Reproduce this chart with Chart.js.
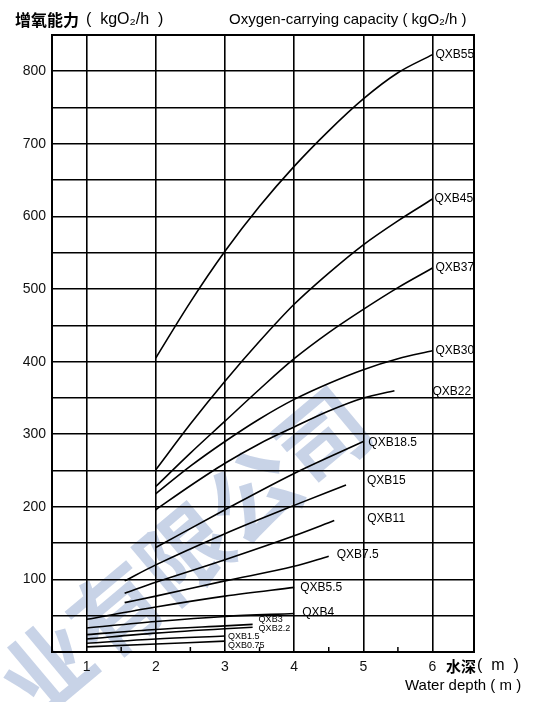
<!DOCTYPE html>
<html><head><meta charset="utf-8">
<script src="https://cdn.jsdelivr.net/npm/chart.js@4.4.0/dist/chart.umd.min.js"></script>
<style>html,body{margin:0;padding:0;background:#fff;}#wrap{position:relative;width:533px;height:702px;}</style>
</head><body><div id="wrap"><canvas id="c" width="533" height="702"></canvas></div>
<script>
// ---- data (water depth m, oxygen capacity kgO2/h) ----
const seriesNames = ['QXB55','QXB45','QXB37','QXB30','QXB22','QXB18.5','QXB15','QXB11','QXB7.5','QXB5.5','QXB4','QXB3','QXB2.2','QXB1.5','QXB0.75'];
const depth55 = [2, 2.5, 3, 3.5, 4, 4.5, 5, 5.5, 6];
const cap55   = [405, 482, 552, 614, 669, 718, 762, 798, 823];
const depth45 = [2, 2.5, 3, 3.5, 4, 4.5, 5, 5.5, 6];
const cap45   = [251, 314, 373, 428, 479, 522, 561, 594, 624];
const depth37 = [2, 2.5, 3, 3.5, 4, 4.5, 5, 5.5, 6];
const cap37   = [228, 274, 318, 362, 404, 440, 472, 502, 529];
const depth30 = [2, 2.5, 3, 3.5, 4, 4.5, 5, 5.5, 6];
const cap30   = [218, 256, 290, 321, 348, 370, 389, 404, 415];
const depth22 = [2, 2.5, 3, 3.5, 4, 4.5, 5, 5.45];
const cap22   = [196, 229, 260, 287, 310, 332, 350, 360];
const depth18 = [2, 3, 4, 5];
const cap18   = [144, 196, 246, 290];
const depth15 = [1.55, 2, 3, 4, 4.75];
const cap15   = [98, 120, 163, 202, 230];
const depth11 = [1.55, 2, 3, 4, 4.58];
const cap11   = [81, 96, 127, 160, 181];
const depth7  = [1.55, 2, 3, 4, 4.5];
const cap7    = [68, 77, 98, 118, 132];
const depth5  = [1, 2, 3, 4];
const cap5    = [45, 62, 77, 89];
const depth4  = [1, 2, 3, 4];
const cap4    = [33, 42, 49, 53];
const depth3  = [1, 2, 3, 3.4];
const cap3    = [24, 31, 36, 38];
const depth2  = [1, 2, 3, 3.4];
const cap2    = [18, 26, 32, 34];
const depth1  = [1, 2, 3];
const cap1    = [12, 18, 22];
const depth0  = [1, 2, 3];
const cap0    = [7, 11, 15];
const xTickValues = [1, 2, 3, 4, 5, 6];
const xMinorTicks = [1.5, 2.5, 3.5, 4.5, 5.5];
const yTickValues = [0,50,100,150,200,250,300,350,400,450,500,550,600,650,700,750,800,850];

const seriesDepth = [depth55,depth45,depth37,depth30,depth22,depth18,depth15,depth11,depth7,depth5,depth4,depth3,depth2,depth1,depth0];
const seriesCap   = [cap55,cap45,cap37,cap30,cap22,cap18,cap15,cap11,cap7,cap5,cap4,cap3,cap2,cap1,cap0];

// label styling: pixel offsets from each curve's end point, font size
const labelStyle = [
  [3,0,12],[2,0,12],[3,0,12],[3,0,12],[38,1,12],[5,1,12],[21,-4,12],[33,-2,12],
  [8,-1,12],[6,0,12],[8,-1,12],[6,-5,9],[6,1,9],[3,0,9],[3,4,9]
];

const datasets = seriesNames.map((n,i)=>({
  label:n,
  data: seriesDepth[i].map((d,j)=>({x:d,y:seriesCap[i][j]})),
  borderColor:'#000', borderWidth:1.6, pointRadius:0, fill:false,
  cubicInterpolationMode:'monotone'
}));

const FONT = '"Liberation Sans", Arial, "Noto Sans CJK SC", sans-serif';

const decor = {
  id:'decor',
  beforeDraw(chart){
    const ctx = chart.ctx;
    ctx.save();
    ctx.fillStyle='#fff'; ctx.fillRect(0,0,chart.width,chart.height);
    // watermark
    ctx.translate(12,697);
    ctx.rotate(-40*Math.PI/180);
    ctx.fillStyle='rgba(110,140,192,0.38)';
    ctx.font='bold 90px "Noto Sans CJK SC"';
    ctx.textBaseline='middle'; ctx.textAlign='left';
    ctx.fillText('业有限公司',0,0);
    ctx.restore();
  },
  afterDraw(chart){
    const ctx = chart.ctx, a = chart.chartArea;
    const xs = chart.scales.x, ys = chart.scales.y;
    ctx.save();
    ctx.strokeStyle='#000'; ctx.lineWidth=2;
    ctx.strokeRect(a.left,a.top,a.right-a.left,a.bottom-a.top);
    ctx.lineWidth=1.5;
    xMinorTicks.forEach(v=>{
      const px = xs.getPixelForValue(v);
      ctx.beginPath(); ctx.moveTo(px,a.bottom); ctx.lineTo(px,a.bottom-5); ctx.stroke();
    });
    // series labels
    ctx.fillStyle='#000'; ctx.textBaseline='middle'; ctx.textAlign='left';
    seriesNames.forEach((n,i)=>{
      const d = seriesDepth[i], c = seriesCap[i];
      const px = xs.getPixelForValue(d[d.length-1]), py = ys.getPixelForValue(c[c.length-1]);
      const st = labelStyle[i];
      ctx.font = st[2]+'px '+FONT;
      ctx.fillText(n, px+st[0], py+st[1]);
    });
    // titles
    ctx.font='bold 16px "Noto Sans CJK SC"';
    ctx.fillText('增氧能力',15,20);
    ctx.font='16px '+FONT;
    ctx.fillText('(  kgO₂/h  )',86,20);
    ctx.font='15px '+FONT;
    ctx.fillText('Oxygen-carrying capacity ( kgO₂/h )',229,20);
    ctx.font='bold 15px "Noto Sans CJK SC"';
    ctx.fillText('水深',446,666);
    ctx.font='16px '+FONT;
    ctx.fillText('(  m  )',477,666);
    ctx.font='15px '+FONT;
    ctx.fillText('Water depth ( m )',405,686);
    ctx.restore();
  }
};

new Chart(document.getElementById('c'),{
  type:'line',
  data:{datasets},
  options:{
    responsive:false, animation:false, devicePixelRatio:1,
    layout:{padding:{left:0,top:35,right:59,bottom:0}},
    plugins:{legend:{display:false},tooltip:{enabled:false}},
    scales:{
      x:{type:'linear',min:0.5,max:6.6,
        afterBuildTicks:s=>{s.ticks=xTickValues.map(v=>({value:v}));},
        afterFit:s=>{s.height=50;},
        grid:{color:'#000',lineWidth:1.6,drawTicks:false},
        border:{color:'#000',width:2},
        ticks:{color:'#111',font:{family:FONT,size:14},padding:7}},
      y:{type:'linear',min:0,max:850,
        afterBuildTicks:s=>{s.ticks=yTickValues.map(v=>({value:v}));},
        afterFit:s=>{s.width=52;},
        grid:{color:'#000',lineWidth:1.6,drawTicks:false},
        border:{color:'#000',width:2},
        ticks:{color:'#111',font:{family:FONT,size:14},padding:6,
          callback:v=>(v>0&&v%100===0)?String(v):''}}
    }
  },
  plugins:[decor]
});
</script></body></html>
